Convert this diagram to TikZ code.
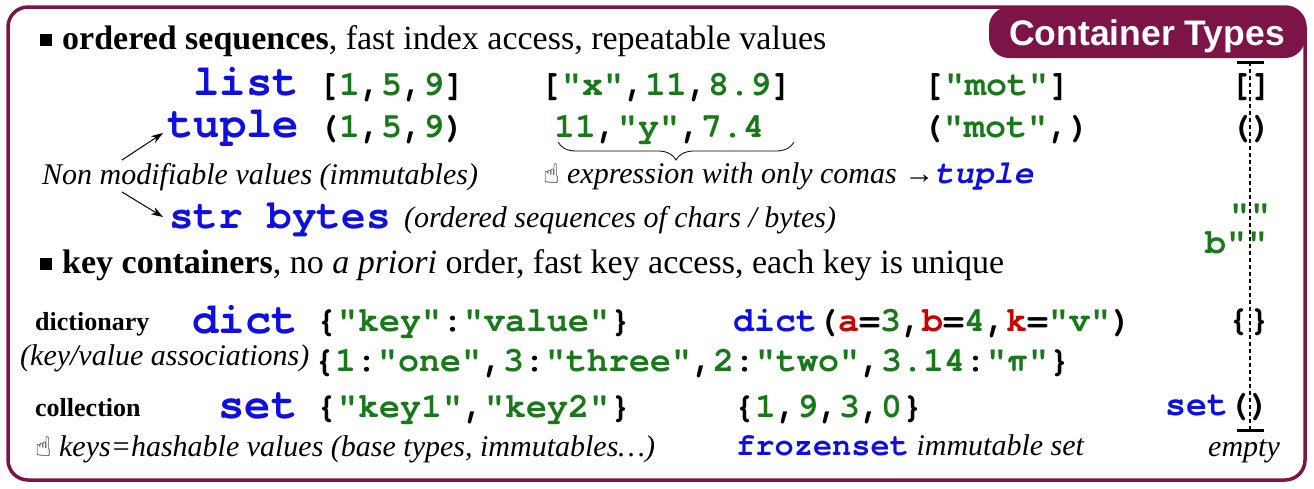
\documentclass[tikz,border=0pt]{standalone}
\usepackage{fontspec}
\setmainfont{Liberation Serif}
\setsansfont{Liberation Sans}
\setmonofont{TeX Gyre Cursor}
\newfontfamily\symb{DejaVu Sans}
\usetikzlibrary{arrows.meta,decorations.pathreplacing}
\definecolor{framec}{RGB}{125,20,72}
\definecolor{kw}{RGB}{15,15,225}
\definecolor{val}{RGB}{25,120,25}
\definecolor{kred}{RGB}{200,0,0}
\newcommand\fsz[1]{\fontsize{#1pt}{#1pt}\selectfont}
\newcommand\V[1]{\textcolor{val}{#1}}
\newcommand\R[1]{\textcolor{kred}{#1}}
\newcommand\hand{{\symb\fsz{27}☝}}
\newcommand\sqbul{\rule[3pt]{12pt}{12pt}}
\tikzset{
  txt/.style={inner sep=0pt, anchor=base west},
  typename/.style={txt, font=\ttfamily\bfseries\fsz{44}, text=kw},
  code/.style={txt, font=\ttfamily\bfseries\fsz{35}},
  note/.style={txt, font=\itshape\fsz{30}},
  head/.style={txt, font=\fsz{34}},
  cat/.style={txt, font=\bfseries\fsz{26}},
  pointer/.style={-{Stealth[length=12pt,width=8pt]}, line width=1pt},
}
\begin{document}
\begin{tikzpicture}[x=1pt,y=-1pt]
\useasboundingbox (0,0) rectangle (1314,488);
% frame and title tab
\draw[framec, line width=3.5pt, rounded corners=20pt] (8,7) rectangle (1305,480);
\fill[framec, rounded corners=20pt] (989,7) rectangle (1305,58);
\node[font=\sffamily\bfseries\fsz{35.5}, text=white, anchor=base, inner sep=0pt] (title) at (1147,45) {Container Types};

% ordered sequences
\node[head] (seqhead) at (40,49) {\sqbul\hspace{10pt}\textbf{ordered sequences}, fast index access, repeatable values};

\node[typename] (list) at (193,95) {list};
\node[code] (l1) at (318,95) {[\V{1},\V{5},\V{9}]};
\node[code] (l2) at (540,95) {[\V{"x"},\V{11},\V{8.9}]};
\node[code] (l3) at (923,95) {[\V{"mot"}]};
\node[code] (l0) at (1230,95) {[]};

\node[typename] (tuple) at (167,137) {tuple};
\node[code] (t1) at (318,137) {(\V{1},\V{5},\V{9})};
\node[code] (t2) at (554,137) {\V{11},\V{"y"},\V{7.4}};
\node[code] (t3) at (922,137) {(\V{"mot"},)};
\node[code] (t0) at (1230,137) {()};

\draw[decorate, decoration={brace, mirror, amplitude=18pt}, line width=0.8pt] (558,142) -- (794,142);

\node[note] (nonmod) at (42,184) {Non modifiable values (immutables)};
\node[note] (comas) at (543,183) {\hand\ expression with only comas \textup{→}\textcolor{kw}{\ttfamily\bfseries\itshape\fsz{33}tuple}};

\coordinate (nmup) at (122,160);
\coordinate (nmdown) at (122,192);
\coordinate (tuplein) at (163,133);
\coordinate (strin) at (163,217);
\draw[pointer] (nmup) -- (tuplein);
\draw[pointer] (nmdown) -- (strin);

\node[typename, font=\ttfamily\bfseries\fsz{41}] (strb) at (169,228) {str bytes};
\node[note] (strnote) at (404,227) {(ordered sequences of chars / bytes)};
\node[code, text depth=0pt] (emptystr) at (1229,225) {\V{""}};
\node[code, text height=22pt] (emptybytes) at (1205,253) {\V{b""}};

% key containers
\node[head] (keyhead) at (40,273) {\sqbul\hspace{10pt}\textbf{key containers}, no \textit{a priori} order, fast key access, each key is unique};

\node[cat] (dictcat) at (35,330) {dictionary};
\node[typename] (dict) at (192,333) {dict};
\node[code] (d1) at (316,331) {\{\V{"key"}:\V{"value"}\}};
\node[code] (d2) at (733,331) {\textcolor{kw}{dict}(\R{a}=\V{3},\R{b}=\V{4},\R{k}=\V{"v"})};
\node[code] (d0) at (1228,330) {\{\}};

\node[note] (assoc) at (20,365) {(key/value associations)};
\node[code] (d3) at (314,371) {\{\V{1}:\V{"one"},\V{3}:\V{"three"},\V{2}:\V{"two"},\V{3.14}:\V{"π"}\}};

\node[cat] (setcat) at (35,416) {collection};
\node[typename] (set) at (218,418) {set};
\node[code] (s1) at (316,417) {\{\V{"key1"},\V{"key2"}\}};
\node[code] (s2) at (734,417) {\{\V{1},\V{9},\V{3},\V{0}\}};
\node[code] (s0) at (1165,415) {\textcolor{kw}{set}()};

\node[note] (hashnote) at (35,456) {\hand\ keys=hashable values (base types, immutables…)};
\node[txt, font=\fsz{30}] (frozen) at (736,455) {\textcolor{kw}{\ttfamily\bfseries\fsz{32}frozenset} \textit{immutable set}};
\node[note] (empty) at (1208,456) {empty};

% empty-container column marker
\coordinate (emptytop) at (1250,62);
\coordinate (emptybot) at (1250,430);
\draw[line width=2pt, dash pattern=on 4pt off 3pt] (emptytop) -- (emptybot);
\draw[line width=3pt] ([xshift=-13pt]emptytop) -- ([xshift=14pt]emptytop);
\draw[line width=3pt] ([xshift=-13pt]emptybot) -- ([xshift=14pt]emptybot);
\end{tikzpicture}
\end{document}
